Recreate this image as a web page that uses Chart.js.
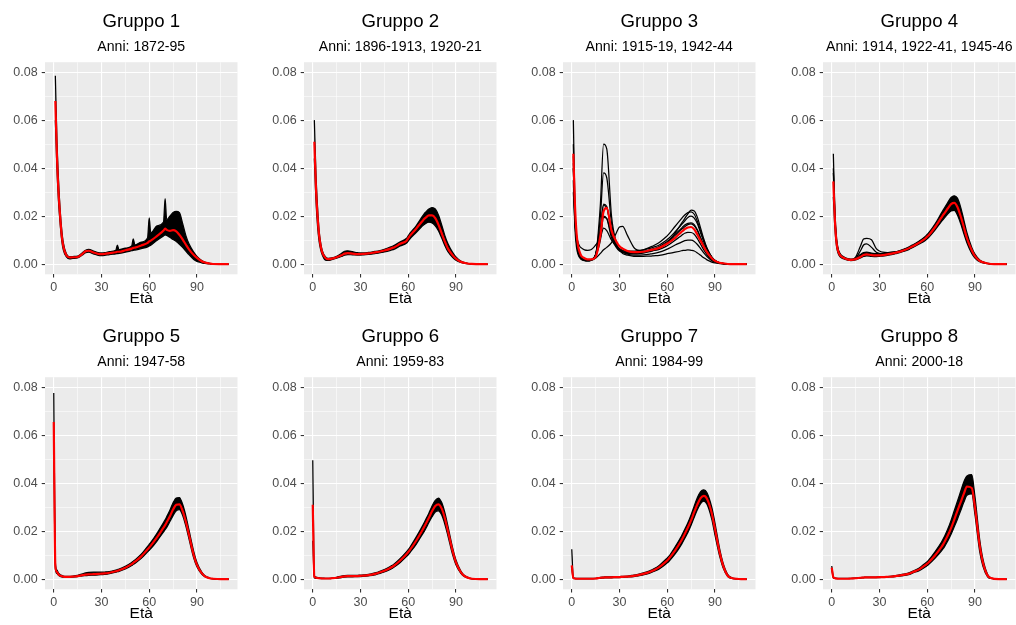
<!DOCTYPE html>
<html>
<head>
<meta charset="utf-8">
<script src="https://cdn.jsdelivr.net/npm/chart.js@4/dist/chart.umd.min.js"></script>
<style>
  body { margin: 0; background: #fff; width: 1016px; height: 625px; overflow: hidden; position: relative; }
  canvas { position: absolute; }
</style>
</head>
<body>
<canvas id="c1" width="240" height="310" style="left:0px;top:0px"></canvas>
<canvas id="c2" width="240" height="310" style="left:259px;top:0px"></canvas>
<canvas id="c3" width="240" height="310" style="left:518px;top:0px"></canvas>
<canvas id="c4" width="240" height="310" style="left:778px;top:0px"></canvas>
<canvas id="c5" width="240" height="310" style="left:0px;top:315px"></canvas>
<canvas id="c6" width="240" height="310" style="left:259px;top:315px"></canvas>
<canvas id="c7" width="240" height="310" style="left:518px;top:315px"></canvas>
<canvas id="c8" width="240" height="310" style="left:778px;top:315px"></canvas>
<script>
// eta' (asse x) comune a tutti i pannelli
const ages = [0, 1, 2, 3, 4, 5, 6, 8, 10, 12,
              15, 18, 20, 22, 25, 28, 30, 32, 35,
              39, 40, 41, 45, 49, 50, 51, 55, 59, 60, 61,
              65, 69, 70, 71, 73, 75, 77, 79, 81, 83, 85,
              88, 90, 93, 95, 98, 100, 105, 110];

const groupTitles = ['Gruppo 1', 'Gruppo 2', 'Gruppo 3', 'Gruppo 4', 'Gruppo 5', 'Gruppo 6', 'Gruppo 7', 'Gruppo 8'];
const groupYears = ['Anni: 1872-95', 'Anni: 1896-1913, 1920-21', 'Anni: 1915-19, 1942-44', 'Anni: 1914, 1922-41, 1945-46',
                    'Anni: 1947-58', 'Anni: 1959-83', 'Anni: 1984-99', 'Anni: 2000-18'];
const xTicks = [0, 15, 30, 45, 60, 75, 90, 105];
const yTicks = [0, 0.01, 0.02, 0.03, 0.04, 0.05, 0.06, 0.07, 0.08];

// Gruppo 1
const g1Mean = [null, .068, .045, .030, .020, .012, .0075, .0036, .0028, .0029,
                .0030, .0043, .0054, .0056, .0049, .0043, .0042, .0043, .0046,
                .0050, .0052, .0052, .0058, .0065, .0068, .0069, .0078, .0089, .0095, .0098,
                .0118, .0140, .0148, .0143, .0139, .0142, .0137, .0122, .0103, .0082, .0062,
                .0038, .0026, .0012, .0007, .0003, .0001, .00002, 0];
const g1High = [null, .0785, .052, .035, .023, .0145, .0090, .0042, .0031, .0032,
                .0034, .0048, .0058, .0062, .0055, .0048, .0047, .0048, .0052,
                .0058, .0080, .0060, .0067, .0076, .0106, .0080, .0092, .0110, .0193, .0130,
                .0160, .0175, .0273, .0185, .0200, .0215, .0220, .0215, .0170, .0120, .0085,
                .0050, .0032, .0015, .0009, .0004, .0001, .00003, 0];
const g1Low = [null, .060, .040, .026, .017, .010, .0060, .0030, .0022, .0024,
               .0026, .0038, .0048, .0050, .0043, .0037, .0036, .0037, .0040,
               .0043, .0044, .0045, .0050, .0056, .0058, .0059, .0065, .0072, .0076, .0079,
               .0100, .0118, .0122, .0120, .0112, .0103, .0095, .0083, .0070, .0055, .0040,
               .0020, .0012, .0006, .0003, .0001, 0, 0, 0];

// Gruppo 2
const g2Mean = [null, .051, .032, .020, .012, .0075, .0048, .0026, .0021, .0023,
                .0029, .0037, .0044, .0046, .0044, .0042, .0042, .0043, .0045,
                .0049, .0050, .0051, .0057, .0065, .0068, .0070, .0085, .0098, .0108, .0118,
                .0148, .0180, .0188, .0194, .0203, .0203, .0192, .0165, .0130, .0095, .0065,
                .0037, .0023, .0010, .0006, .0002, .0001, 0, 0];
const g2High = [null, .060, .038, .024, .014, .0088, .0056, .0030, .0024, .0026,
                .0033, .0045, .0054, .0056, .0052, .0048, .0047, .0047, .0049,
                .0053, .0054, .0055, .0062, .0072, .0075, .0078, .0093, .0108, .0118, .0128,
                .0160, .0200, .0210, .0217, .0230, .0236, .0230, .0205, .0165, .0120, .0085,
                .0048, .0030, .0013, .0008, .0003, .0001, 0, 0];
const g2Low = [null, .044, .027, .016, .0095, .0060, .0038, .0017, .0016, .0019,
               .0025, .0032, .0038, .0040, .0039, .0038, .0038, .0039, .0041,
               .0044, .0045, .0046, .0051, .0058, .0060, .0062, .0076, .0088, .0096, .0105,
               .0132, .0160, .0165, .0170, .0175, .0172, .0160, .0140, .0110, .0078, .0052,
               .0028, .0017, .0007, .0004, .0001, 0, 0, 0];

// Gruppo 3 (anni singoli)
const g3Mean = [null, .046, .025, .013, .0075, .0050, .0035, .0025, .0020, .0020,
                .0030, .0120, .0220, .0235, .0140, .0095, .0075, .0065, .0055,
                .0050, .0050, .0050, .0052, .0058, .0060, .0061, .0068, .0082, .0086, .0090,
                .0110, .0135, .0140, .0146, .0153, .0155, .0145, .0123, .0098, .0073, .0050,
                .0025, .0014, .0006, .0004, .0001, .00005, 0, 0];
const g3Y1 = [null, .060, .025, .010, .0050, .0030, .0022, .0016, .0014, .0016,
              .0040, .0250, .0500, .0480, .0200, .0090, .0060, .0045, .0038,
              .0033, .0033, .0033, .0033, .0034, .0034, .0035, .0037, .0042, .0044, .0045,
              .0050, .0056, .0058, .0058, .0060, .0058, .0055, .0047, .0037, .0027, .0018,
              .0009, .0005, .0002, .0001, 0, 0, 0, 0];
const g3Y2 = [null, .050, .022, .011, .0060, .0038, .0027, .0019, .0016, .0018,
              .0040, .0200, .0380, .0360, .0170, .0085, .0060, .0050, .0042,
              .0038, .0038, .0038, .0039, .0042, .0043, .0044, .0050, .0060, .0063, .0066,
              .0080, .0092, .0095, .0098, .0100, .0100, .0095, .0082, .0065, .0047, .0032,
              .0015, .0009, .0004, .0002, .0001, 0, 0, 0];
const g3Y3 = [null, .045, .020, .010, .0055, .0035, .0025, .0018, .0016, .0018,
              .0040, .0150, .0245, .0235, .0140, .0080, .0060, .0050, .0045,
              .0043, .0043, .0043, .0046, .0052, .0054, .0056, .0062, .0073, .0077, .0081,
              .0100, .0120, .0125, .0129, .0133, .0132, .0125, .0106, .0083, .0060, .0040,
              .0019, .0011, .0004, .0002, .0001, 0, 0, 0];
const g3Y4 = [null, .040, .018, .009, .0050, .0032, .0023, .0017, .0015, .0017,
              .0040, .0140, .0250, .0240, .0130, .0075, .0058, .0052, .0048,
              .0047, .0047, .0048, .0052, .0060, .0062, .0064, .0074, .0090, .0095, .0100,
              .0125, .0150, .0157, .0163, .0170, .0172, .0165, .0142, .0110, .0078, .0052,
              .0025, .0014, .0005, .0003, .0001, 0, 0, 0];
const g3Y5 = [null, .042, .020, .010, .0055, .0035, .0025, .0018, .0016, .0018,
              .0035, .0100, .0195, .0190, .0120, .0075, .0060, .0055, .0052,
              .0052, .0053, .0054, .0060, .0070, .0073, .0076, .0090, .0112, .0118, .0125,
              .0158, .0190, .0198, .0205, .0215, .0218, .0208, .0178, .0138, .0098, .0065,
              .0030, .0017, .0006, .0003, .0001, 0, 0, 0];
const g3Y6 = [null, .030, .018, .012, .0090, .0075, .0068, .0060, .0058, .0060,
              .0080, .0110, .0150, .0140, .0100, .0075, .0065, .0058, .0055,
              .0055, .0055, .0056, .0060, .0066, .0068, .0070, .0080, .0098, .0103, .0108,
              .0135, .0165, .0172, .0180, .0195, .0200, .0192, .0168, .0130, .0093, .0062,
              .0030, .0016, .0006, .0003, .0001, 0, 0, 0];
const g3Y7 = [null, .035, .015, .0070, .0040, .0027, .0020, .0015, .0014, .0016,
              .0025, .0045, .0060, .0070, .0090, .0130, .0155, .0158, .0120,
              .0070, .0063, .0060, .0055, .0055, .0056, .0057, .0065, .0082, .0088, .0095,
              .0130, .0170, .0180, .0190, .0210, .0225, .0222, .0195, .0150, .0105, .0068,
              .0030, .0016, .0006, .0003, .0001, 0, 0, 0];
const g3Y8 = [null, .040, .019, .0095, .0052, .0033, .0024, .0018, .0016, .0018,
              .0040, .0130, .0200, .0190, .0110, .0070, .0055, .0050, .0047,
              .0045, .0045, .0046, .0050, .0057, .0059, .0061, .0070, .0085, .0090, .0095,
              .0120, .0145, .0150, .0156, .0165, .0168, .0160, .0140, .0108, .0078, .0052,
              .0024, .0014, .0005, .0003, .0001, 0, 0, 0];

// Gruppo 4
const g4Mean = [null, .0345, .018, .009, .0055, .0040, .0032, .0025, .0020, .0018,
                .0021, .0030, .0038, .0041, .0038, .0037, .0037, .0038, .0041,
                .0046, .0048, .0049, .0057, .0068, .0072, .0075, .0090, .0108, .0115, .0121,
                .0155, .0195, .0205, .0214, .0233, .0250, .0255, .0238, .0200, .0155, .0108,
                .0058, .0034, .0014, .0008, .0003, .0001, 0, 0];
const g4High = [null, .046, .022, .011, .0065, .0048, .0038, .0029, .0023, .0021,
                .0025, .0040, .0048, .0050, .0046, .0044, .0043, .0044, .0047,
                .0051, .0052, .0053, .0062, .0074, .0078, .0081, .0097, .0117, .0124, .0131,
                .0168, .0214, .0225, .0236, .0258, .0278, .0285, .0275, .0238, .0185, .0130,
                .0070, .0042, .0018, .0010, .0004, .0001, 0, 0];
const g4Low = [null, .028, .015, .0075, .0045, .0033, .0027, .0021, .0017, .0015,
               .0018, .0026, .0032, .0035, .0033, .0032, .0033, .0034, .0037,
               .0042, .0044, .0045, .0053, .0063, .0067, .0070, .0084, .0100, .0106, .0112,
               .0143, .0178, .0186, .0194, .0210, .0222, .0224, .0205, .0170, .0128, .0088,
               .0045, .0026, .0010, .0006, .0002, .0001, 0, 0];
const g4War1 = [null, .040, .020, .010, .0060, .0044, .0034, .0026, .0021, .0019,
                .0030, .0075, .0105, .0108, .0102, .0065, .0055, .0050, .0048,
                .0050, .0051, .0052, .0060, .0071, .0075, .0078, .0093, .0112, .0118, .0124,
                .0160, .0200, .0210, .0218, .0238, .0255, .0260, .0245, .0205, .0160, .0112,
                .0060, .0036, .0015, .0008, .0003, .0001, 0, 0];
const g4War2 = [null, .038, .019, .0095, .0058, .0042, .0033, .0025, .0020, .0018,
                .0025, .0055, .0080, .0085, .0070, .0050, .0045, .0044, .0045,
                .0048, .0049, .0050, .0058, .0069, .0073, .0076, .0091, .0110, .0116, .0122,
                .0156, .0196, .0206, .0215, .0235, .0252, .0256, .0240, .0202, .0157, .0110,
                .0058, .0035, .0014, .0008, .0003, .0001, 0, 0];

// Gruppo 5
const g5Mean = [.0655, .0055, .0030, .0020, .0015, .0013, .0011, .0010, .0010, .0011,
                .0013, .0017, .0019, .0020, .0021, .0022, .0023, .0024, .0027,
                .0033, .0035, .0037, .0048, .0063, .0068, .0073, .0095, .0125, .0132, .0140,
                .0175, .0215, .0225, .0237, .0262, .0290, .0310, .0312, .0285, .0240, .0185,
                .0100, .0060, .0025, .0012, .0004, .0002, 0, 0];
const g5High = [.0775, .0070, .0038, .0025, .0019, .0016, .0013, .0012, .0012, .0013,
                .0016, .0022, .0026, .0028, .0029, .0029, .0029, .0030, .0032,
                .0038, .0040, .0042, .0054, .0070, .0075, .0080, .0104, .0137, .0145, .0153,
                .0192, .0236, .0247, .0260, .0287, .0318, .0338, .0340, .0312, .0265, .0205,
                .0115, .0070, .0030, .0015, .0005, .0002, 0, 0];
const g5Low = [.0560, .0045, .0024, .0016, .0012, .0010, .0009, .0008, .0008, .0009,
               .0011, .0014, .0015, .0016, .0017, .0018, .0019, .0020, .0023,
               .0029, .0031, .0033, .0043, .0057, .0062, .0066, .0087, .0114, .0120, .0127,
               .0160, .0197, .0206, .0216, .0240, .0265, .0285, .0290, .0266, .0222, .0168,
               .0088, .0052, .0021, .0010, .0003, .0001, 0, 0];

// Gruppo 6
const g6Mean = [.0310, .0010, .0006, .0005, .0004, .0004, .0003, .0003, .0003, .0004,
                .0006, .0010, .0012, .0013, .0013, .0013, .0014, .0015, .0017,
                .0022, .0024, .0026, .0035, .0048, .0052, .0056, .0078, .0105, .0113, .0121,
                .0160, .0205, .0217, .0230, .0256, .0283, .0305, .0312, .0295, .0255, .0200,
                .0115, .0070, .0030, .0015, .0005, .0002, 0, 0];
const g6High = [.0495, .0015, .0009, .0007, .0006, .0005, .0005, .0004, .0004, .0005,
                .0008, .0013, .0015, .0016, .0016, .0016, .0017, .0018, .0020,
                .0026, .0028, .0030, .0040, .0054, .0058, .0062, .0086, .0115, .0123, .0132,
                .0175, .0222, .0235, .0248, .0275, .0305, .0328, .0338, .0320, .0278, .0220,
                .0128, .0080, .0035, .0018, .0006, .0002, 0, 0];
const g6Low = [.0160, .0006, .0004, .0003, .0003, .0002, .0002, .0002, .0002, .0003,
               .0004, .0007, .0009, .0010, .0010, .0011, .0011, .0012, .0014,
               .0018, .0020, .0022, .0030, .0042, .0046, .0050, .0070, .0095, .0102, .0110,
               .0145, .0188, .0198, .0210, .0236, .0260, .0280, .0285, .0268, .0230, .0180,
               .0100, .0060, .0025, .0012, .0004, .0001, 0, 0];

// Gruppo 7
const g7Mean = [.0058, .0005, .0003, .0002, .0002, .0002, .0002, .0002, .0002, .0002,
                .0003, .0006, .0007, .0008, .0008, .0009, .0009, .0010, .0011,
                .0014, .0015, .0016, .0022, .0030, .0033, .0036, .0050, .0072, .0078, .0085,
                .0120, .0162, .0175, .0188, .0215, .0245, .0280, .0312, .0338, .0347, .0335,
                .0275, .0210, .0110, .0060, .0015, .0006, .0001, 0];
const g7High = [.0125, .0008, .0004, .0003, .0003, .0003, .0003, .0003, .0003, .0003,
                .0004, .0008, .0009, .0010, .0010, .0011, .0011, .0012, .0013,
                .0017, .0018, .0019, .0026, .0035, .0038, .0041, .0057, .0082, .0088, .0095,
                .0135, .0180, .0193, .0207, .0235, .0268, .0305, .0340, .0365, .0372, .0360,
                .0300, .0235, .0125, .0070, .0020, .0008, .0001, 0];
const g7Low = [.0045, .0003, .0002, .0001, .0001, .0001, .0001, .0001, .0001, .0001,
               .0002, .0004, .0005, .0006, .0006, .0007, .0007, .0008, .0009,
               .0011, .0012, .0013, .0018, .0025, .0028, .0031, .0043, .0062, .0068, .0074,
               .0105, .0145, .0157, .0170, .0195, .0225, .0258, .0290, .0315, .0325, .0312,
               .0250, .0185, .0095, .0050, .0012, .0004, 0, 0];

// Gruppo 8
const g8Mean = [.0048, .0008, .0004, .0003, .0002, .0002, .0002, .0002, .0002, .0003,
                .0004, .0006, .0007, .0008, .0008, .0008, .0009, .0009, .0010,
                .0012, .0013, .0014, .0018, .0024, .0027, .0030, .0041, .0060, .0065, .0071,
                .0100, .0135, .0145, .0157, .0183, .0213, .0248, .0285, .0320, .0355, .0386,
                .0380, .0300, .0140, .0070, .0015, .0005, 0, 0];
const g8High = [.0055, .0010, .0005, .0004, .0003, .0003, .0003, .0003, .0003, .0004,
                .0005, .0007, .0008, .0009, .0009, .0009, .0010, .0010, .0011,
                .0014, .0015, .0016, .0021, .0028, .0031, .0034, .0047, .0068, .0073, .0080,
                .0115, .0155, .0167, .0180, .0210, .0245, .0285, .0325, .0365, .0405, .0430,
                .0435, .0345, .0165, .0085, .0020, .0006, 0, 0];
const g8Low = [.0042, .0006, .0003, .0002, .0002, .0002, .0002, .0002, .0002, .0002,
               .0003, .0005, .0006, .0007, .0007, .0007, .0007, .0008, .0009,
               .0010, .0011, .0012, .0015, .0020, .0023, .0026, .0036, .0052, .0057, .0062,
               .0088, .0118, .0127, .0137, .0160, .0187, .0218, .0250, .0285, .0320, .0350,
               .0355, .0270, .0115, .0055, .0010, .0003, 0, 0];

const panels = [
  { mean: g1Mean, high: g1High, low: g1Low, lines: [] },
  { mean: g2Mean, high: g2High, low: g2Low, lines: [] },
  { mean: g3Mean, high: null, low: null, lines: [g3Y1, g3Y2, g3Y3, g3Y4, g3Y5, g3Y6, g3Y7, g3Y8] },
  { mean: g4Mean, high: g4High, low: g4Low, lines: [g4War1, g4War2] },
  { mean: g5Mean, high: g5High, low: g5Low, lines: [] },
  { mean: g6Mean, high: g6High, low: g6Low, lines: [] },
  { mean: g7Mean, high: g7High, low: g7Low, lines: [] },
  { mean: g8Mean, high: g8High, low: g8Low, lines: [] }
];

Chart.defaults.font.family = "'Liberation Sans', Arial, sans-serif";

// sfondo grigio del pannello (stile ggplot)
const panelBg = {
  id: 'panelBg',
  beforeDraw(chart) {
    const { ctx, chartArea: a } = chart;
    ctx.save();
    ctx.fillStyle = '#EBEBEB';
    ctx.fillRect(a.left, a.top, a.right - a.left, a.bottom - a.top);
    ctx.restore();
  }
};

const isMajorX = v => v % 30 === 0;
const isMajorY = v => Math.round(v * 100) % 2 === 0;

function toPoints(values) {
  return values.map((y, i) => ({ x: ages[i], y: y }));
}

function blackLine(values, fill) {
  return {
    data: toPoints(values),
    borderColor: '#000000',
    backgroundColor: '#000000',
    borderWidth: 1.25,
    fill: fill || false
  };
}

panels.forEach((p, i) => {
  const datasets = [{
    data: toPoints(p.mean),
    borderColor: '#FF0000',
    borderWidth: 2.2,
    fill: false
  }];
  if (p.high) {
    datasets.push(blackLine(p.high, '+1'));
    datasets.push(blackLine(p.low));
  }
  p.lines.forEach(l => datasets.push(blackLine(l)));

  new Chart(document.getElementById('c' + (i + 1)), {
    type: 'line',
    data: { datasets: datasets },
    plugins: [panelBg],
    options: {
      responsive: false,
      animation: false,
      events: [],
      layout: { padding: { left: 0, right: 2.5, top: 0, bottom: 2.2 } },
      elements: {
        point: { radius: 0 },
        line: { cubicInterpolationMode: 'monotone', borderJoinStyle: 'round' }
      },
      plugins: {
        legend: { display: false },
        tooltip: { enabled: false },
        title: {
          display: true,
          text: groupTitles[i],
          fullSize: false,
          color: '#000000',
          font: { size: 18.6, weight: 'normal', lineHeight: 1.2 },
          padding: { top: 10.5, bottom: 0 }
        },
        subtitle: {
          display: true,
          text: groupYears[i],
          fullSize: false,
          color: '#000000',
          font: { size: 14.1, weight: 'normal', lineHeight: 1.2 },
          padding: { top: 5.7, bottom: 6.8 }
        }
      },
      scales: {
        x: {
          type: 'linear',
          min: -5.5,
          max: 115.5,
          afterBuildTicks: axis => { axis.ticks = xTicks.map(v => ({ value: v })); },
          afterFit: axis => { axis.height = 33.5; },
          border: { display: false },
          grid: {
            color: '#FFFFFF',
            lineWidth: c => isMajorX(c.tick.value) ? 1.1 : 0.55,
            tickColor: c => isMajorX(c.tick.value) ? '#333333' : 'rgba(0,0,0,0)',
            tickLength: 3.3,
            tickWidth: 1.1
          },
          ticks: {
            autoSkip: false,
            maxRotation: 0,
            padding: 2.6,
            color: '#4D4D4D',
            font: { size: 12.5 },
            callback: v => isMajorX(v) ? String(v) : ''
          },
          title: {
            display: true,
            text: 'Età',
            color: '#000000',
            font: { size: 15.5 },
            padding: { top: 0, bottom: 0 }
          }
        },
        y: {
          type: 'linear',
          min: -0.0042,
          max: 0.0841,
          afterBuildTicks: axis => { axis.ticks = yTicks.map(v => ({ value: v })); },
          afterFit: axis => { axis.width = 45; },
          border: { display: false },
          grid: {
            color: '#FFFFFF',
            lineWidth: c => isMajorY(c.tick.value) ? 1.1 : 0.55,
            tickColor: c => isMajorY(c.tick.value) ? '#333333' : 'rgba(0,0,0,0)',
            tickLength: 3.3,
            tickWidth: 1.1
          },
          ticks: {
            autoSkip: false,
            padding: 4,
            color: '#4D4D4D',
            font: { size: 12.5 },
            callback: v => isMajorY(v) ? v.toFixed(2) : ''
          }
        }
      }
    }
  });
});
</script>
</body>
</html>
